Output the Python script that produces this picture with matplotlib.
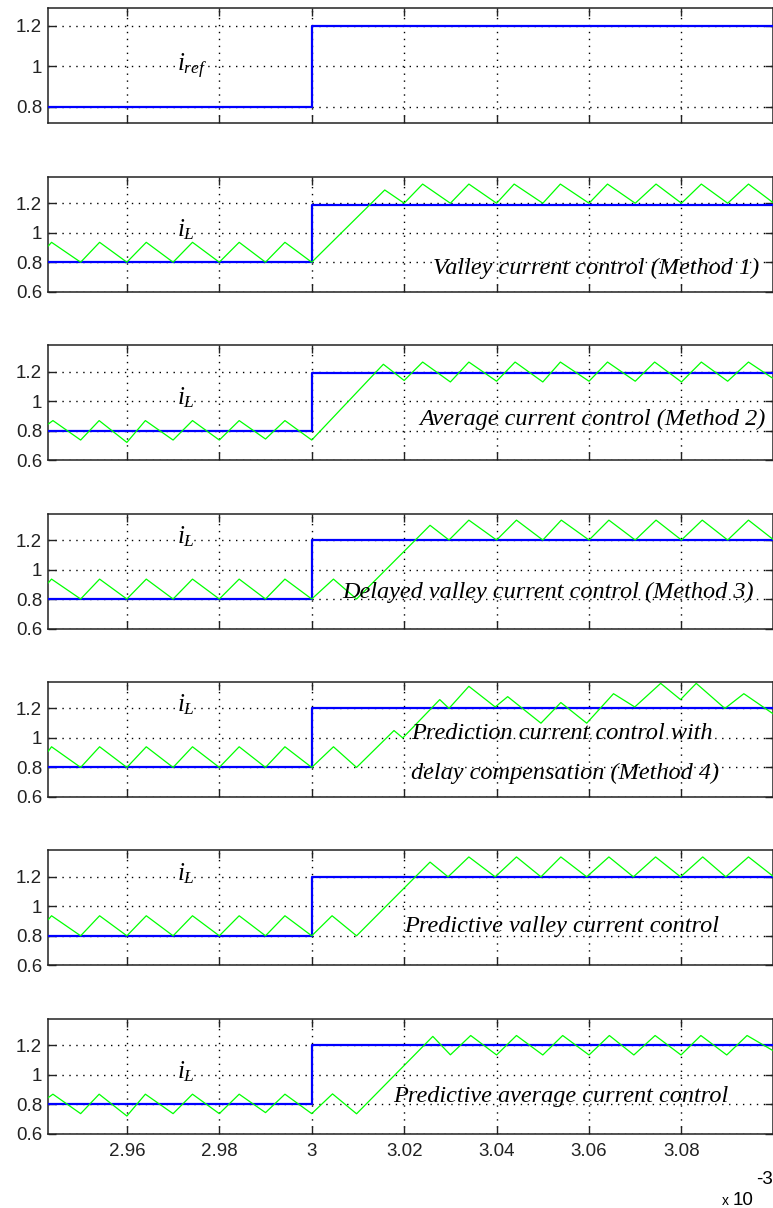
import matplotlib
matplotlib.use("Agg")
import matplotlib.pyplot as plt
from matplotlib import font_manager as fm

# ---------------- data (time in units of 1e-3 s) ----------------
ref_t = [2.943, 3.0, 3.0, 3.1]
ref_v = [0.8, 0.8, 1.2, 1.2]

ref2_v = [0.8, 0.8, 1.19, 1.19]   # blue reference in panels 2/3 (slightly below 1.2)

# Method 1: valley current control
m1_t = [2.943, 2.9437, 2.95, 2.9541, 2.96, 2.9642, 2.97, 2.9742, 2.98, 2.9843, 2.99, 2.9942, 3.0,
        3.0158, 3.02, 3.024, 3.03, 3.034, 3.04, 3.0438, 3.05, 3.0538, 3.06, 3.064, 3.07, 3.0745,
        3.08, 3.0843, 3.09, 3.0945, 3.1]
m1_v = [0.91, 0.935, 0.80, 0.935, 0.80, 0.935, 0.80, 0.935, 0.80, 0.935, 0.80, 0.935, 0.80,
        1.29, 1.20, 1.33, 1.20, 1.33, 1.20, 1.33, 1.20, 1.33, 1.20, 1.33, 1.20, 1.33,
        1.20, 1.33, 1.20, 1.33, 1.20]

# Method 2: average current control
m2_t = [2.943, 2.944, 2.95, 2.954, 2.96, 2.964, 2.97, 2.9742, 2.98, 2.9843, 2.99, 2.9942, 3.0,
        3.0155, 3.02, 3.024, 3.03, 3.034, 3.04, 3.044, 3.05, 3.0538, 3.06, 3.064, 3.07, 3.0742,
        3.08, 3.0843, 3.09, 3.0945, 3.1]
m2_v = [0.845, 0.868, 0.736, 0.868, 0.72, 0.868, 0.736, 0.868, 0.736, 0.868, 0.743, 0.868, 0.736,
        1.25, 1.14, 1.265, 1.13, 1.265, 1.135, 1.265, 1.13, 1.265, 1.135, 1.265, 1.135, 1.265,
        1.13, 1.265, 1.135, 1.265, 1.15]

# Method 3: delayed valley current control
m3_t = [2.943, 2.9437, 2.95, 2.9541, 2.96, 2.9642, 2.97, 2.9742, 2.98, 2.9843, 2.99, 2.9942, 3.0,
        3.0047, 3.0097, 3.0256, 3.0297, 3.034, 3.04, 3.0443, 3.05, 3.054, 3.06, 3.0643, 3.07,
        3.0745, 3.08, 3.0845, 3.09, 3.0945, 3.1]
m3_v = [0.91, 0.935, 0.80, 0.935, 0.80, 0.935, 0.80, 0.935, 0.80, 0.935, 0.80, 0.935, 0.80,
        0.935, 0.80, 1.30, 1.20, 1.335, 1.20, 1.335, 1.20, 1.335, 1.20, 1.335, 1.20,
        1.335, 1.20, 1.335, 1.20, 1.335, 1.20]

# Method 4: prediction current control with delay compensation
m4_t = [2.943, 2.9437, 2.95, 2.9541, 2.96, 2.9642, 2.97, 2.9742, 2.98, 2.9843, 2.99, 2.9942, 3.0,
        3.0047, 3.0097, 3.0178, 3.0197, 3.0277, 3.0297, 3.034, 3.0397, 3.0424, 3.0496, 3.0539,
        3.0595, 3.0653, 3.0699, 3.0755, 3.0798, 3.0832, 3.0894, 3.0935, 3.1]
m4_v = [0.91, 0.94, 0.80, 0.94, 0.80, 0.94, 0.80, 0.94, 0.80, 0.94, 0.80, 0.94, 0.80,
        0.94, 0.80, 1.05, 1.00, 1.26, 1.20, 1.35, 1.21, 1.28, 1.10, 1.24,
        1.10, 1.30, 1.21, 1.37, 1.26, 1.37, 1.20, 1.30, 1.16]

# Predictive valley current control
pv_t = [2.943, 2.9437, 2.95, 2.9541, 2.96, 2.9642, 2.97, 2.9742, 2.98, 2.9843, 2.99, 2.9942, 3.0,
        3.0044, 3.0097, 3.0256, 3.0295, 3.034, 3.0397, 3.0443, 3.0496, 3.0539, 3.0595, 3.0643,
        3.0696, 3.0744, 3.0798, 3.0846, 3.0896, 3.0945, 3.1]
pv_v = [0.91, 0.936, 0.80, 0.936, 0.80, 0.936, 0.80, 0.936, 0.80, 0.936, 0.80, 0.936, 0.80,
        0.936, 0.80, 1.30, 1.20, 1.335, 1.20, 1.335, 1.20, 1.335, 1.20, 1.335,
        1.20, 1.335, 1.20, 1.335, 1.20, 1.335, 1.20]

# Predictive average current control
pa_t = [2.943, 2.944, 2.95, 2.954, 2.96, 2.964, 2.97, 2.9742, 2.98, 2.9843, 2.99, 2.9942, 3.0,
        3.0045, 3.0097, 3.0262, 3.03, 3.0344, 3.04, 3.0443, 3.05, 3.0543, 3.06, 3.0644, 3.0697,
        3.0743, 3.0799, 3.0842, 3.0898, 3.0942, 3.1]
pa_v = [0.845, 0.868, 0.736, 0.868, 0.72, 0.868, 0.736, 0.868, 0.736, 0.868, 0.743, 0.868, 0.736,
        0.87, 0.735, 1.26, 1.135, 1.266, 1.134, 1.266, 1.134, 1.266, 1.134, 1.266, 1.134,
        1.266, 1.134, 1.266, 1.134, 1.266, 1.16]

x_ticks = [2.96, 2.98, 3.0, 3.02, 3.04, 3.06, 3.08]
x_ticklabels = ["2.96", "2.98", "3", "3.02", "3.04", "3.06", "3.08"]
y_ticks = [0.6, 0.8, 1.0, 1.2]
y_ticklabels = ["0.6", "0.8", "1", "1.2"]
y_ticks_top = [0.8, 1.0, 1.2]
y_ticklabels_top = ["0.8", "1", "1.2"]

panel_green = [None, (m1_t, m1_v), (m2_t, m2_v), (m3_t, m3_v), (m4_t, m4_v), (pv_t, pv_v), (pa_t, pa_v)]
panel_blue = [ref_v, ref2_v, ref2_v, ref_v, ref_v, ref_v, ref_v]
label_y = [0.974, 0.978, 0.978, 1.178, 1.178, 1.178, 0.978]
label_txt = [r"$i_{ref}$"] + [r"$i_{L}$"] * 6

# annotation: (text, x, y, ha)
notes = [
    [],
    [("Valley current control (Method 1)", 3.0968, 0.72, "right")],
    [("Average current control (Method 2)", 3.0983, 0.835, "right")],
    [("Delayed valley current control (Method 3)", 3.0957, 0.81, "right")],
    [("Prediction current control with", 3.0215, 0.99, "left"),
     ("delay compensation (Method 4)", 3.0215, 0.72, "left")],
    [("Predictive valley current control", 3.0200, 0.826, "left")],
    [("Predictive average current control", 3.0901, 0.815, "right")],
]

# ---------------- fonts ----------------
def has_font(name):
    try:
        fm.findfont(fm.FontProperties(family=name), fallback_to_default=False)
        return True
    except Exception:
        return False

tick_font = "Liberation Sans Narrow" if has_font("Liberation Sans Narrow") else "Liberation Sans"
plt.rcParams["font.family"] = [tick_font, "DejaVu Sans"]
plt.rcParams["mathtext.fontset"] = "custom"
plt.rcParams["mathtext.it"] = "Liberation Serif:italic"
plt.rcParams["mathtext.rm"] = "Liberation Serif"

W, H = 773, 1208
fig = plt.figure(figsize=(W / 100, H / 100), dpi=100)

left_px, right_px = 48.3, 772.5
top0, pitch, ax_h = 8.3, 168.4, 115.0

for k in range(7):
    top = top0 + pitch * k
    ax = fig.add_axes([left_px / W, 1 - (top + ax_h) / H, (right_px - left_px) / W, ax_h / H])
    ax.plot(ref_t, panel_blue[k], color=(0, 0, 1), lw=1.6, zorder=3)
    if panel_green[k] is not None:
        gt, gv = panel_green[k]
        ax.plot(gt, gv, color=(0, 1, 0), lw=0.9, zorder=4)
    ax.set_xlim(2.943, 3.0997)
    if k == 0:
        ax.set_ylim(0.718, 1.286)
        ax.set_yticks(y_ticks_top)
        ax.set_yticklabels(y_ticklabels_top)
    else:
        ax.set_ylim(0.6, 1.38)
        ax.set_yticks(y_ticks)
        ax.set_yticklabels(y_ticklabels)
    ax.set_xticks(x_ticks)
    if k == 6:
        ax.set_xticklabels(x_ticklabels)
    else:
        ax.set_xticklabels([])
    ax.grid(True, color="black", linestyle=(0, (1, 4)), linewidth=1.0)
    ax.set_axisbelow(True)
    ax.tick_params(direction="in", top=True, right=True, length=6, width=1.0,
                   labelsize=13.5, colors="#222222")
    ax.tick_params(axis="y", pad=4.5)
    ax.tick_params(axis="x", pad=7)
    for s in ax.spines.values():
        s.set_linewidth(1.1)
        s.set_color("#222222")
    ax.text(2.9708, label_y[k], label_txt[k], fontsize=18, ha="left", va="baseline", zorder=5)
    for (txt, x, y, ha) in notes[k]:
        ax.text(x, y, txt, fontsize=17.5, ha=ha, va="baseline", family="Liberation Serif",
                style="italic", zorder=5)

fig.text(722 / W, 1 - 1205 / H, "x", fontsize=10, ha="left", va="baseline")
fig.text(733 / W, 1 - 1205 / H, "10", fontsize=13.5, ha="left", va="baseline")
fig.text(756 / W, 1 - 1184 / H, "-3", fontsize=13.5, ha="left", va="baseline")

fig.savefig("out.png", dpi=100)
